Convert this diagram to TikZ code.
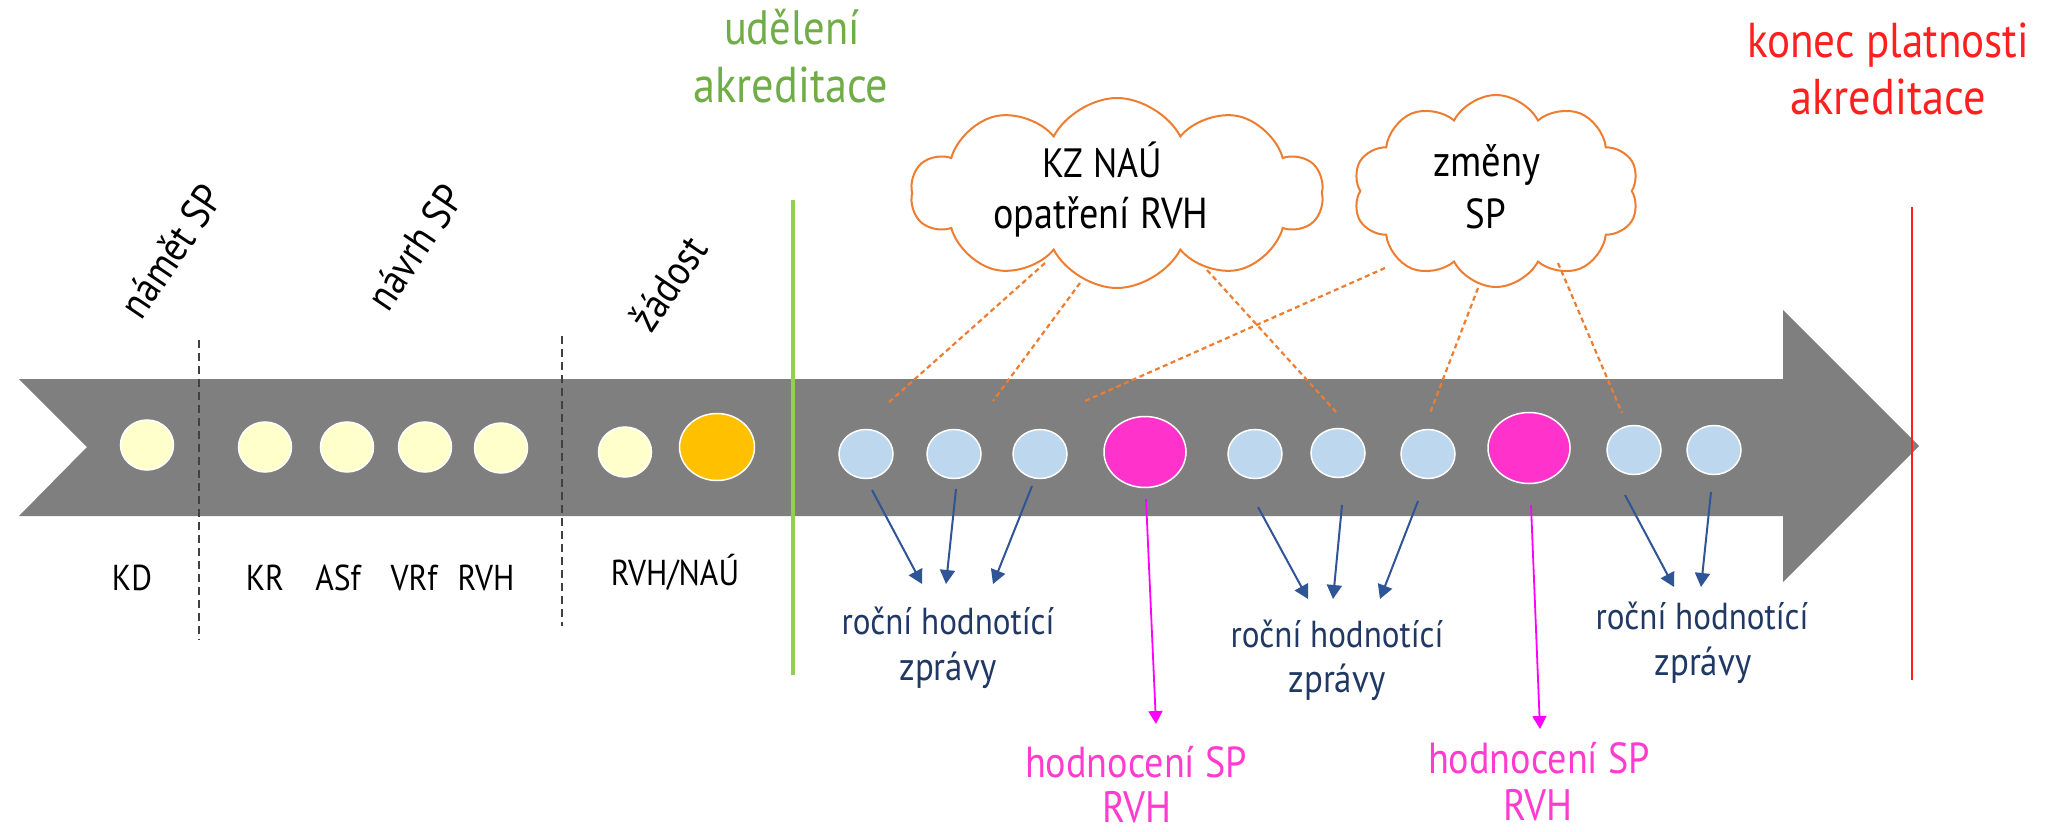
\documentclass[tikz,border=0pt]{standalone}
\usepackage{fontspec}
\usepackage{graphicx}
\setmainfont[FakeStretch=0.88]{PT Sans}
\usetikzlibrary{shapes.geometric,shapes.symbols,arrows.meta}
\newcommand{\fitw}[2]{\resizebox{#1pt}{!}{#2}}
\definecolor{arrowgray}{HTML}{7F7F7F}
\definecolor{dotyellow}{HTML}{FFFFCC}
\definecolor{dotorange}{HTML}{FFC000}
\definecolor{dotblue}{HTML}{BDD7EE}
\definecolor{dotpink}{HTML}{FF33CC}
\definecolor{cloudorange}{HTML}{ED7D31}
\definecolor{greenline}{HTML}{92D050}
\definecolor{greentext}{HTML}{70AD47}
\definecolor{navytext}{HTML}{203864}
\definecolor{navyarrow}{HTML}{2F5597}
\definecolor{pinktext}{HTML}{FF3CCF}
\definecolor{evalmag}{HTML}{FF00FF}
\definecolor{redline}{HTML}{FF1F1F}
\begin{document}
\begin{tikzpicture}[x=1pt,y=-1pt,
  dot/.style={ellipse,draw=white,line width=1.5pt,inner sep=0pt},
  ydot/.style={dot,fill=dotyellow,minimum width=53pt,minimum height=50pt},
  bdot/.style={dot,fill=dotblue,minimum width=54pt,minimum height=49pt},
  odot/.style={dot,fill=dotorange,minimum width=75pt,minimum height=67pt},
  pdot/.style={dot,fill=dotpink,minimum width=82pt,minimum height=71pt},
  txt/.style={anchor=base,inner sep=0pt},
  lbl/.style={txt,font=\fontsize{36}{44}\selectfont},
  phase/.style={font=\fontsize{42}{48}\selectfont,inner sep=0pt,rotate=56},
  cloudbox/.style={cloud,cloud puffs=10,cloud puff arc=125,draw=cloudorange,line width=2pt,fill=white,inner sep=0pt},
  cloudtxt/.style={txt,font=\fontsize{40}{50}\selectfont},
  reptxt/.style={txt,font=\fontsize{38}{48}\selectfont,text=navytext},
  evaltxt/.style={txt,font=\fontsize{44}{49}\selectfont,text=pinktext},
  bigtxt/.style={txt,font=\fontsize{52}{57}\selectfont},
  repline/.style={navyarrow,line width=2pt,-{Triangle[width=15pt,length=14pt]}},
  evalline/.style={evalmag,line width=1.8pt,-{Triangle[width=14pt,length=13pt]}},
  linkline/.style={cloudorange,line width=2.2pt,dash pattern=on 5pt off 3.5pt},
  sepline/.style={black!75,line width=1.2pt,dash pattern=on 8pt off 5pt}]
\useasboundingbox (0,0) rectangle (2051,832);
\fill[white] (0,0) rectangle (2051,832);
% main arrow
\fill[arrowgray] (19,379) -- (1783,379) -- (1783,310) -- (1919,446) -- (1783,582)
  -- (1783,516) -- (19,516) -- (87,447) -- cycle;
% separators
\coordinate (s1t) at (199,340); \coordinate (s1b) at (199,640);
\coordinate (s2t) at (562,336); \coordinate (s2b) at (562,626);
\draw[sepline] (s1t) -- (s1b);
\draw[sepline] (s2t) -- (s2b);
% green and red lines
\coordinate (gt) at (793,200); \coordinate (gb) at (793,675);
\coordinate (rt) at (1912,207); \coordinate (rb) at (1912,680);
\draw[greenline,line width=4pt] (gt) -- (gb);
% phase labels
\node[phase] (namet) at (171,251) {námět SP};
\node[phase] (navrh) at (415,247) {návrh SP};
\node[phase] (zadost) at (668,283) {žádost};
% dots
\node[ydot] (y1) at (147,445) {};
\node[ydot] (y2) at (265,447) {};
\node[ydot] (y3) at (347,447) {};
\node[ydot] (y4) at (425,447) {};
\node[ydot] (y5) at (501,448) {};
\node[ydot] (y6) at (625,452) {};
\node[odot] (o1) at (717,447) {};
\node[bdot] (b1) at (866,454) {};
\node[bdot] (b2) at (954,454) {};
\node[bdot] (b3) at (1040,454) {};
\node[pdot] (p1) at (1145,452) {};
\node[bdot] (b4) at (1255,454) {};
\node[bdot] (b5) at (1338,453) {};
\node[bdot] (b6) at (1428,454) {};
\node[pdot] (p2) at (1529,448) {};
\node[bdot] (b7) at (1634,450) {};
\node[bdot] (b8) at (1714,450) {};
% labels under
\node[lbl] (kd) at (132,590) {KD};
\node[lbl] (kr) at (265,590) {KR};
\node[lbl] (asf) at (338,590) {ASf};
\node[lbl] (vrf) at (414,590) {VRf};
\node[lbl] (rvh) at (486,590) {RVH};
\node[lbl] (rvhnau) at (675,585) {RVH/NAÚ};
% top texts
\node[bigtxt,text=greentext] (udel1) at (792,45) {\fitw{136}{udělení}};
\node[bigtxt,text=greentext] (udel2) at (791,103) {\fitw{195}{akreditace}};
\node[bigtxt,text=redline] (konec1) at (1888,58) {\fitw{282}{konec platnosti}};
\node[bigtxt,text=redline] (konec2) at (1888,115) {\fitw{195}{akreditace}};
% clouds
\node[cloudbox,minimum width=412pt,minimum height=190pt,aspect=2.17] (c1) at (1117,193) {};
\node[cloudbox,minimum width=286pt,minimum height=192pt,aspect=1.49] (c2) at (1496,191) {};
\node[cloudtxt] (c1t1) at (1102,178) {\fitw{120}{KZ NAÚ}};
\node[cloudtxt] (c1t2) at (1101,228) {\fitw{215}{opatření RVH}};
\node[cloudtxt] (c2t1) at (1487,177) {\fitw{107}{změny}};
\node[cloudtxt,font=\fontsize{42}{50}\selectfont] (c2t2) at (1486,228) {SP};
% dotted links
\coordinate (l1a) at (1045,263); \coordinate (l1b) at (888,403);
\coordinate (l2a) at (1080,283); \coordinate (l2b) at (993,401);
\coordinate (l3a) at (1385,268); \coordinate (l3b) at (1085,401);
\coordinate (l4a) at (1207,270); \coordinate (l4b) at (1337,413);
\coordinate (l5a) at (1478,288); \coordinate (l5b) at (1430,413);
\coordinate (l6a) at (1558,263); \coordinate (l6b) at (1622,413);
\draw[linkline] (l1a) -- (l1b);
\draw[linkline] (l2a) -- (l2b);
\draw[linkline] (l3a) -- (l3b);
\draw[linkline] (l4a) -- (l4b);
\draw[linkline] (l5a) -- (l5b);
\draw[linkline] (l6a) -- (l6b);
% report texts
\node[reptxt] (r1a) at (948,634) {\fitw{213}{roční hodnotící}};
\node[reptxt] (r1b) at (948,680) {\fitw{97}{zprávy}};
\node[reptxt] (r2a) at (1337,647) {\fitw{213}{roční hodnotící}};
\node[reptxt] (r2b) at (1337,692) {\fitw{97}{zprávy}};
\node[reptxt] (r3a) at (1702,629) {\fitw{213}{roční hodnotící}};
\node[reptxt] (r3b) at (1703,675) {\fitw{97}{zprávy}};
\node[evaltxt] (e1a) at (1136,777) {\fitw{222}{hodnocení SP}};
\node[evaltxt] (e1b) at (1137,822) {RVH};
\node[evaltxt] (e2a) at (1539,773) {\fitw{222}{hodnocení SP}};
\node[evaltxt] (e2b) at (1538,820) {RVH};
% report arrows
\coordinate (a1s) at (872,490); \coordinate (a1e) at (922,584);
\coordinate (a2s) at (956,489); \coordinate (a2e) at (946,584);
\coordinate (a3s) at (1032,486); \coordinate (a3e) at (993,584);
\coordinate (a4s) at (1258,507); \coordinate (a4e) at (1308,599);
\coordinate (a5s) at (1342,505); \coordinate (a5e) at (1333,599);
\coordinate (a6s) at (1418,501); \coordinate (a6e) at (1380,599);
\coordinate (a7s) at (1625,495); \coordinate (a7e) at (1674,587);
\coordinate (a8s) at (1711,492); \coordinate (a8e) at (1701,587);
\draw[repline] (a1s) -- (a1e);
\draw[repline] (a2s) -- (a2e);
\draw[repline] (a3s) -- (a3e);
\draw[repline] (a4s) -- (a4e);
\draw[repline] (a5s) -- (a5e);
\draw[repline] (a6s) -- (a6e);
\draw[repline] (a7s) -- (a7e);
\draw[repline] (a8s) -- (a8e);
% evaluation arrows
\coordinate (m1s) at (1146,499); \coordinate (m1e) at (1156,724);
\coordinate (m2s) at (1531,505); \coordinate (m2e) at (1540,729);
\draw[evalline] (m1s) -- (m1e);
\draw[evalline] (m2s) -- (m2e);
% red end line
\draw[redline,line width=2pt] (rt) -- (rb);
\end{tikzpicture}
\end{document}
